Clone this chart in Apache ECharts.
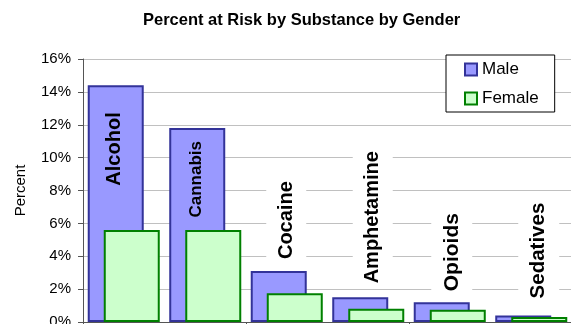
<!DOCTYPE html>
<html>
<head>
<meta charset="utf-8">
<script src="https://cdn.jsdelivr.net/npm/echarts@6/dist/echarts.min.js"></script>
<style>
html,body{margin:0;padding:0;background:#fff;}
#chart{width:571px;height:324px;}
</style>
</head>
<body>
<div id="chart"></div>
<script>
const categories = ['Alcohol', 'Cannabis', 'Cocaine', 'Amphetamine', 'Opioids', 'Sedatives'];
const maleValues = [14.4, 11.8, 3.1, 1.5, 1.2, 0.4];
const femaleValues = [5.6, 5.6, 1.75, 0.8, 0.75, 0.3];
const yTicks = [0, 2, 4, 6, 8, 10, 12, 14, 16];
const seriesNames = ['Male', 'Female'];
const titleText = 'Percent at Risk by Substance by Gender';
const yAxisTitle = 'Percent';

const FONT = "'Liberation Sans', Arial, sans-serif";

// label placement styles (kept separate from data)
const labelStyles = [
  { position: 'insideTop', distance: 27, align: 'right', fontSize: 20, offset: [0, -1.5], inside: true },
  { position: 'insideTop', distance: 13, align: 'right', fontSize: 17, offset: [0, -0.5], inside: true },
  { position: 'top', distance: 9, align: 'left', fontSize: 20, offset: [0, 7.5] },
  { position: 'top', distance: 11, align: 'left', fontSize: 20, offset: [0, 12.5] },
  { position: 'top', distance: 8, align: 'left', fontSize: 21, offset: [0, 10] },
  { position: 'top', distance: 14, align: 'left', fontSize: 20.5, offset: [0, 15.5] }
];

const maleData = maleValues.map((v, i) => {
  const s = labelStyles[i];
  const label = {
    show: true,
    formatter: categories[i],
    position: s.position,
    distance: s.distance,
    rotate: 90,
    align: s.align,
    verticalAlign: 'middle',
    offset: s.offset,
    fontFamily: FONT,
    fontWeight: 'bold',
    fontSize: s.fontSize,
    color: '#000'
  };
  if (!s.inside) {
    label.backgroundColor = '#fff';
    label.padding = [10, 2, 10, 3];
  }
  return { value: v, label: label };
});

const chart = echarts.init(document.getElementById('chart'), null, { renderer: 'canvas' });
chart.setOption({
  animation: false,
  backgroundColor: '#fff',
  title: {
    text: titleText,
    left: 143,
    top: 12,
    padding: 0,
    textStyle: { fontFamily: FONT, fontWeight: 'bold', fontSize: 16.5, color: '#000' }
  },
  legend: {
    data: seriesNames,
    orient: 'vertical',
    left: 446,
    top: 55,
    padding: [6, 16, 5, 18],
    itemGap: 12,
    itemWidth: 12,
    itemHeight: 12,
    icon: 'rect',
    borderColor: '#000',
    borderWidth: 1,
    backgroundColor: '#fff',
    borderRadius: 0,
    textStyle: { fontFamily: FONT, fontSize: 17, color: '#000' }
  },
  grid: { left: 83, top: 59, width: 489, height: 263, containLabel: false, outerBoundsMode: 'none' },
  xAxis: {
    type: 'category',
    data: categories,
    boundaryGap: true,
    axisLine: { show: true, lineStyle: { color: '#555', width: 1 } },
    axisTick: { show: true, length: 5, lineStyle: { color: '#555' } },
    axisLabel: { show: false },
    splitLine: { show: false }
  },
  yAxis: {
    type: 'value',
    min: yTicks[0],
    max: yTicks[yTicks.length - 1],
    interval: 2,
    name: yAxisTitle,
    nameLocation: 'middle',
    nameRotate: 90,
    nameGap: 55,
    nameTextStyle: { fontFamily: FONT, fontSize: 15, color: '#000' },
    axisLine: { show: true, lineStyle: { color: '#555', width: 1 } },
    axisTick: { show: true, length: 5, inside: false, lineStyle: { color: '#555' } },
    axisLabel: { formatter: '{value}%', margin: 12, fontFamily: FONT, fontSize: 15, color: '#000' },
    splitLine: { show: true, lineStyle: { color: '#c0c0c0', width: 1 } }
  },
  series: [
    {
      name: seriesNames[0],
      type: 'bar',
      data: maleData,
      barWidth: 56,
      barGap: '-71.4%',
      itemStyle: { color: '#9999ff', borderColor: '#333399', borderWidth: 2 }
    },
    {
      name: seriesNames[1],
      type: 'bar',
      data: femaleValues,
      barWidth: 56,
      itemStyle: { color: '#ccffcc', borderColor: '#008000', borderWidth: 2 }
    }
  ]
});
</script>
</body>
</html>
